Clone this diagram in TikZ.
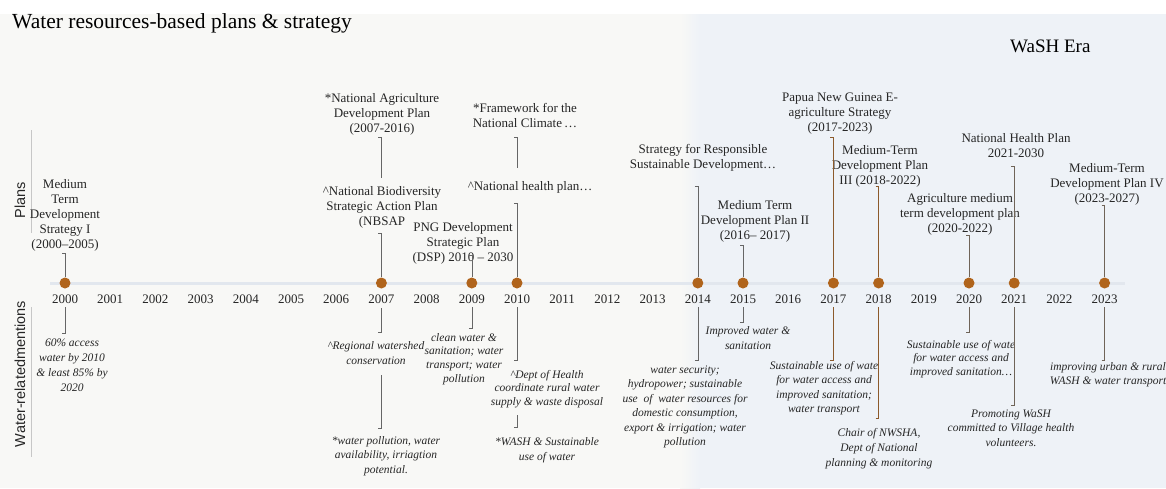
\documentclass[tikz,border=0pt]{standalone}
\usepackage{fontspec}
\setmainfont{Liberation Serif}
\setsansfont{Liberation Sans}
\definecolor{dotc}{HTML}{B0641C}
\definecolor{brownline}{HTML}{8C5A2B}
\definecolor{midline}{HTML}{6F6458}
\definecolor{grayline}{HTML}{666666}
\definecolor{leftbg}{HTML}{F8F8F6}
\definecolor{rightbg}{HTML}{EEF2F7}
\definecolor{tlc}{HTML}{E2E7EE}
\definecolor{txt}{HTML}{262626}
\newcommand{\tickline}[3][conn]{\draw[#1] (#2) ++(-3,0) -- (#2) -- (#3);}
\begin{document}
\begin{tikzpicture}[x=1pt,y=1pt,
  plan/.style={font=\fontsize{13}{15}\selectfont, align=center, inner sep=0pt, text=txt},
  ment/.style={font=\fontsize{11.5}{14.5}\selectfont\itshape, align=center, inner sep=0pt, text=txt},
  yearlbl/.style={font=\fontsize{13}{15}\selectfont, inner sep=0pt, text=txt},
  evdot/.style={circle, fill=dotc, minimum size=11pt, inner sep=0pt},
  conn/.style={draw=grayline, line width=0.6pt},
  bconn/.style={draw=brownline, line width=0.8pt},
  mconn/.style={draw=midline, line width=0.7pt},
  side/.style={font=\sffamily\fontsize{14.5}{16}\selectfont, rotate=90, inner sep=0pt, text=txt},
  sep/.style={draw=black!22, line width=0.6pt}
]
\useasboundingbox (0,0) rectangle (1166,-488);
% background
\fill[white] (0,0) rectangle (1166,-488);
\fill[leftbg] (0,-14) rectangle (682,-488);
\shade[left color=leftbg, right color=rightbg] (680,-14) rectangle (700,-488);
\fill[rightbg] (699.5,-14) rectangle (1166,-488);

% title
\node[anchor=west, inner sep=0pt, font=\fontsize{21.5}{24}\selectfont, text=black] (title) at (12,-23) {Water resources-based plans \& strategy};
\node[anchor=west, inner sep=0pt, font=\fontsize{19}{22}\selectfont, text=black] (era) at (1010,-46) {WaSH Era};

% side labels
\node[side] (plans) at (20,-200) {Plans};
\node[side] (wrm) at (20,-374) {Water-relatedmentions};
\coordinate (s1a) at (31,-130); \coordinate (s1b) at (31,-233);
\coordinate (s2a) at (31,-307); \coordinate (s2b) at (31,-457);
\draw[sep] (s1a) -- (s1b);
\draw[sep] (s2a) -- (s2b);

% timeline band
\coordinate (tlL) at (50,-283); \coordinate (tlR) at (1125,-283);
\draw[tlc, line width=3pt] (tlL) -- (tlR);

% years
\foreach \k in {0,...,23}{
  \pgfmathtruncatemacro{\yr}{2000+\k}
  \node[yearlbl] (y\yr) at ({65+45.2*\k},-299) {\yr};
}

% dots
\node[evdot] (d2000) at (65,-283) {};
\node[evdot] (d2007) at (381.4,-283) {};
\node[evdot] (d2009) at (471.8,-283) {};
\node[evdot] (d2010) at (517,-283) {};
\node[evdot] (d2014) at (697.8,-283) {};
\node[evdot] (d2015) at (743,-283) {};
\node[evdot] (d2017) at (833.4,-283) {};
\node[evdot] (d2018) at (878.6,-283) {};
\node[evdot] (d2020) at (969,-283) {};
\node[evdot] (d2021) at (1014.2,-283) {};
\node[evdot] (d2023) at (1104.6,-283) {};

% ---------- plans ----------
\node[plan] (p00) at (65,-215) {Medium\\Term\\Development\\Strategy I\\(2000--2005)};
\node[plan] (p07a) at (382,-114) {*National Agriculture\\Development Plan\\(2007-2016)};
\node[plan] (p07b) at (382,-207) {\textasciicircum National Biodiversity\\Strategic Action Plan\\(NBSAP};
\node[plan] (p09) at (463,-243) {PNG Development\\Strategic Plan\\(DSP) 2010 -- 2030};
\node[plan] (p10a) at (525,-116) {*Framework for the\\National Climate\,…};
\node[plan] (p10b) at (530,-187) {\textasciicircum National health plan…};
\node[plan] (p14) at (703,-158) {Strategy for Responsible\\Sustainable Development…};
\node[plan] (p15) at (755,-221) {Medium Term\\Development Plan II\\(2016-- 2017)};
\node[plan] (p17) at (840,-114) {Papua New Guinea E-\\agriculture Strategy\\(2017-2023)};
\node[plan] (p18) at (880,-166) {Medium-Term\\Development Plan\\III (2018-2022)};
\node[plan] (p20) at (960,-214) {Agriculture medium\\term development plan\\(2020-2022)};
\node[plan] (p21) at (1016,-146) {National Health Plan\\2021-2030};
\node[plan] (p23) at (1107,-184) {Medium-Term\\Development Plan IV\\(2023-2027)};

\coordinate (c00) at (65,-253);
\coordinate (c07a) at (381.4,-137); \coordinate (c07b) at (381.4,-178);
\coordinate (c07c) at (381.4,-233);
\coordinate (c09) at (471.8,-255);
\coordinate (c10a) at (517,-137); \coordinate (c10b) at (517,-168);
\coordinate (c10c) at (517,-203);
\coordinate (c14) at (697.8,-186);
\coordinate (c15) at (743,-245);
\coordinate (c17) at (833.4,-137);
\coordinate (c18) at (878.6,-186);
\coordinate (c20) at (969,-235);
\coordinate (c21) at (1014.2,-166);
\coordinate (c23) at (1104.6,-205);

\tickline{c00}{d2000.north}
\tickline{c07a}{c07b}
\tickline{c07c}{d2007.north}
\tickline{c09}{d2009.north}
\tickline{c10a}{c10b}
\tickline{c10c}{d2010.north}
\tickline{c14}{d2014.north}
\tickline{c15}{d2015.north}
\tickline[bconn]{c17}{d2017.north}
\tickline[bconn]{c18}{d2018.north}
\tickline[mconn]{c20}{d2020.north}
\tickline[mconn]{c21}{d2021.north}
\tickline[mconn]{c23}{d2023.north}

% ---------- water-related mentions ----------
\node[ment, font=\fontsize{11.5}{15}\selectfont\itshape] (m00) at (72,-365) {60\% access\\water by 2010\\\& least 85\% by\\2020};
\node[ment] (m07a) at (376,-353) {\textasciicircum Regional watershed\\conservation};
\node[ment] (m07b) at (386,-456) {*water pollution, water\\availability, irriagtion\\potential.};
\node[ment, font=\fontsize{11.5}{13.7}\selectfont\itshape] (m09) at (464,-359) {clean water \&\\sanitation; water\\transport; water\\pollution};
\node[ment, font=\fontsize{11.5}{13.5}\selectfont\itshape] (m10a) at (547,-389) {\textasciicircum Dept of Health\\coordinate rural water\\supply \& waste disposal};
\node[ment] (m10b) at (547,-450) {*WASH \& Sustainable\\use of water};
\node[ment] (m14) at (685,-407) {water security;\\hydropower; sustainable\\use\ \ of\ \ water resources for\\domestic consumption,\\export \& irrigation; water\\pollution};
\node[ment] (m15) at (748,-338) {Improved water \&\\sanitation};
\node[ment] (m17) at (824,-388) {Sustainable use of wate\\for water access and\\improved sanitation;\\water transport};
\node[ment, font=\fontsize{11.5}{15}\selectfont\itshape] (m18) at (879,-449) {Chair of NWSHA,\\Dept of National\\planning \& monitoring};
\node[ment, font=\fontsize{11.5}{13.5}\selectfont\itshape] (m20) at (961,-359) {Sustainable use of wate\\for water access and\\improved sanitation…};
\node[ment] (m21) at (1011,-428) {Promoting WaSH\\committed to Village health\\volunteers.};
\node[ment, font=\fontsize{11.5}{14}\selectfont\itshape] (m23) at (1108,-375) {improving urban \& rural\\WASH \& water transport};

\coordinate (b00a) at (65,-307); \coordinate (b00b) at (65,-333);
\coordinate (b07a) at (381.4,-308); \coordinate (b07b) at (381.4,-332);
\coordinate (b07c) at (381.4,-375); \coordinate (b07d) at (381.4,-428);
\coordinate (b09a) at (471.8,-307); \coordinate (b09b) at (471.8,-328);
\coordinate (b10a) at (517,-307); \coordinate (b10b) at (517,-360);
\coordinate (b10c) at (517,-415); \coordinate (b10d) at (517,-427);
\coordinate (b14a) at (697.8,-307); \coordinate (b14b) at (697.8,-360);
\coordinate (b15a) at (743,-307); \coordinate (b15b) at (743,-322);
\coordinate (b17a) at (833.4,-307); \coordinate (b17b) at (833.4,-360);
\coordinate (b18a) at (878.6,-307); \coordinate (b18b) at (878.6,-418);
\coordinate (b20a) at (969,-307); \coordinate (b20b) at (969,-332);
\coordinate (b21a) at (1014.2,-307); \coordinate (b21b) at (1014.2,-405);
\coordinate (b23a) at (1104.6,-307); \coordinate (b23b) at (1104.6,-360);

\tickline{b00b}{b00a}
\tickline{b07b}{b07a}
\tickline{b07d}{b07c}
\tickline{b09b}{b09a}
\tickline{b10b}{b10a}
\tickline{b10d}{b10c}
\tickline{b14b}{b14a}
\tickline{b15b}{b15a}
\tickline[bconn]{b17b}{b17a}
\tickline[bconn]{b18b}{b18a}
\tickline[mconn]{b20b}{b20a}
\tickline[mconn]{b21b}{b21a}
\tickline[mconn]{b23b}{b23a}
\end{tikzpicture}
\end{document}
